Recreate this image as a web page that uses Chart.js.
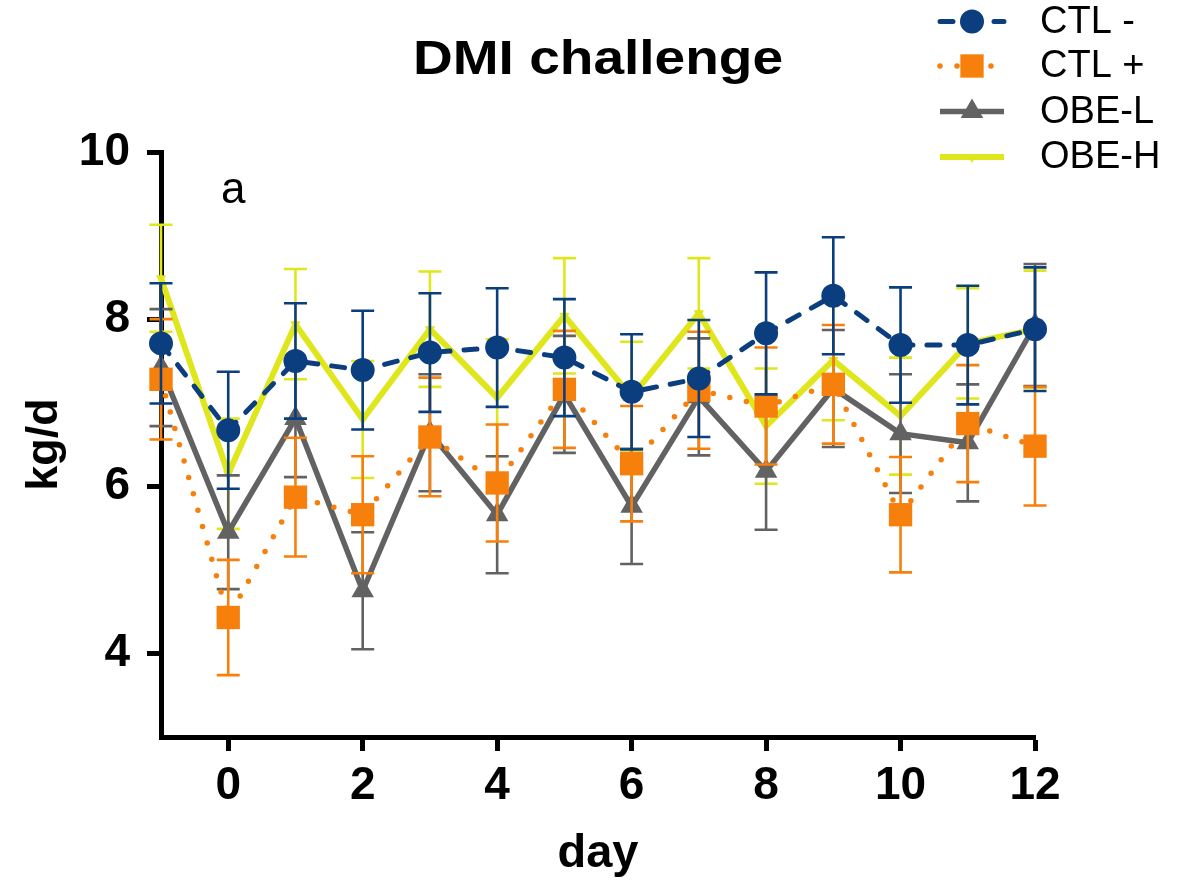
<!DOCTYPE html>
<html>
<head>
<meta charset="utf-8">
<script src="https://cdn.jsdelivr.net/npm/chart.js@4.4.1/dist/chart.umd.min.js"></script>
<style>html,body{margin:0;padding:0;background:#fff}canvas{display:block}</style>
</head>
<body>
<canvas id="c" width="1191" height="882"></canvas>
<script>
// ---- data ----
const days = [-1, 0, 1, 2, 3, 4, 5, 6, 7, 8, 9, 10, 11, 12];
const xTicks = [0, 2, 4, 6, 8, 10, 12];
const yTicks = [4, 6, 8, 10];
const seriesNames = ['CTL -', 'CTL +', 'OBE-L', 'OBE-H'];
const ctlMinus   = [7.71, 6.67, 7.50, 7.39, 7.60, 7.66, 7.54, 7.13, 7.29, 7.83, 8.28, 7.69, 7.69, 7.88];
const ctlMinusSE = [0.72, 0.70, 0.69, 0.71, 0.71, 0.71, 0.70, 0.69, 0.70, 0.73, 0.70, 0.69, 0.71, 0.74];
const ctlPlus    = [7.28, 4.43, 5.87, 5.66, 6.59, 6.04, 7.16, 6.27, 7.15, 6.96, 7.22, 5.66, 6.75, 6.48];
const ctlPlusSE  = [0.72, 0.69, 0.71, 0.70, 0.71, 0.70, 0.70, 0.69, 0.70, 0.70, 0.71, 0.69, 0.70, 0.71];
const obeL       = [7.42, 5.45, 6.81, 4.75, 6.64, 5.66, 7.10, 5.76, 7.07, 6.18, 7.17, 6.63, 6.52, 7.93];
const obeLSE     = [0.70, 0.68, 0.70, 0.70, 0.70, 0.70, 0.70, 0.69, 0.70, 0.70, 0.70, 0.71, 0.70, 0.73];
const obeH       = [8.49, 6.15, 7.94, 6.80, 7.88, 7.06, 8.04, 7.07, 8.07, 6.72, 7.51, 6.84, 7.71, 7.88];
const obeHSE     = [0.64, 0.66, 0.66, 0.70, 0.69, 0.70, 0.69, 0.66, 0.66, 0.69, 0.72, 0.70, 0.66, 0.70];

const FONT = '"Liberation Sans", Arial, Helvetica, sans-serif';
const NAVY = '#0b3e7e', ORANGE = '#f7800c', GRAY = '#626262', YELLOW = '#dfe61c';

function pts(vals) { return days.map((d, i) => ({ x: d, y: vals[i] })); }

function drawMarker(ctx, style, x, y, r, rot, color) {
  ctx.save();
  ctx.fillStyle = color;
  ctx.beginPath();
  if (style === 'circle') {
    ctx.arc(x, y, r, 0, Math.PI * 2);
  } else if (style === 'rect') {
    const s = Math.SQRT1_2 * r;
    ctx.rect(x - s, y - s, 2 * s, 2 * s);
  } else if (style === 'triangle') {
    let a = (rot || 0) * Math.PI / 180;
    for (let k = 0; k < 3; k++) {
      const px = x + Math.sin(a) * r, py = y - Math.cos(a) * r;
      if (k === 0) ctx.moveTo(px, py); else ctx.lineTo(px, py);
      a += 2 * Math.PI / 3;
    }
    ctx.closePath();
  }
  ctx.fill();
  ctx.restore();
}

const errorBars = {
  id: 'errorBars',
  beforeDatasetDraw(chart, args) {
    const ds = chart.data.datasets[args.index];
    const ys = chart.scales.y;
    const ctx = chart.ctx;
    ctx.save();
    ctx.strokeStyle = ds.errColor;
    ctx.lineWidth = 2.6;
    ctx.setLineDash([]);
    args.meta.data.forEach((p, i) => {
      const v = ds.data[i].y, e = ds.se[i];
      const yt = ys.getPixelForValue(v + e), yb = ys.getPixelForValue(v - e);
      ctx.beginPath();
      ctx.moveTo(p.x, yt); ctx.lineTo(p.x, yb);
      ctx.moveTo(p.x - 11.5, yt); ctx.lineTo(p.x + 11.5, yt);
      ctx.moveTo(p.x - 11.5, yb); ctx.lineTo(p.x + 11.5, yb);
      ctx.stroke();
    });
    ctx.restore();
  }
};

const decorations = {
  id: 'decorations',
  afterDraw(chart) {
    const ctx = chart.ctx;
    ctx.save();
    // title
    ctx.fillStyle = '#000';
    ctx.font = 'bold 48px ' + FONT;
    ctx.textBaseline = 'alphabetic';
    ctx.textAlign = 'center';
    const t = 'DMI challenge';
    const w = ctx.measureText(t).width;
    const sx = 370 / w;
    ctx.save();
    ctx.translate(598, 74);
    ctx.scale(sx, 1);
    ctx.fillText(t, 0, 0);
    ctx.restore();
    // panel letter
    ctx.font = '44px ' + FONT;
    ctx.textAlign = 'left';
    ctx.fillText('a', 221, 203);
    // legend
    const rows = [21.5, 66, 111.5, 157];
    chart.data.datasets.forEach((ds, i) => {
      const y = rows[i];
      ctx.save();
      ctx.strokeStyle = ds.borderColor;
      ctx.lineWidth = ds.borderWidth;
      ctx.lineCap = ds.borderCapStyle || 'butt';
      ctx.setLineDash(ds.borderDash || []);
      ctx.beginPath();
      ctx.moveTo(940, y); ctx.lineTo(1004, y);
      ctx.stroke();
      ctx.restore();
      drawMarker(ctx, ds.pointStyle, 972, y, ds.pointRadius, ds.pointRotation, ds.pointBackgroundColor);
      ctx.fillStyle = '#000';
      ctx.font = '38px ' + FONT;
      ctx.textAlign = 'left';
      ctx.textBaseline = 'middle';
      ctx.fillText(ds.label, 1040, y + 1);
    });
    ctx.restore();
  }
};

const tickFont = { family: FONT, size: 46, weight: 'bold' };
const titleFont = { family: FONT, size: 45, weight: 'bold' };

new Chart(document.getElementById('c'), {
  type: 'line',
  data: {
    datasets: [
      { label: seriesNames[0], data: pts(ctlMinus), se: ctlMinusSE, errColor: NAVY,
        borderColor: NAVY, borderWidth: 5, borderDash: [13, 14], borderCapStyle: 'round',
        pointStyle: 'circle', pointRadius: 12, pointBackgroundColor: NAVY, pointBorderWidth: 0,
        pointRotation: 0, clip: false },
      { label: seriesNames[1], data: pts(ctlPlus), se: ctlPlusSE, errColor: ORANGE,
        borderColor: ORANGE, borderWidth: 5.5, borderDash: [0, 17], borderCapStyle: 'round',
        pointStyle: 'rect', pointRadius: 16.5, pointBackgroundColor: ORANGE, pointBorderWidth: 0,
        pointRotation: 0, clip: false },
      { label: seriesNames[2], data: pts(obeL), se: obeLSE, errColor: GRAY,
        borderColor: GRAY, borderWidth: 5.5, borderJoinStyle: 'miter',
        pointStyle: 'triangle', pointRadius: 13, pointBackgroundColor: GRAY, pointBorderWidth: 0,
        pointRotation: 0, clip: false },
      { label: seriesNames[3], data: pts(obeH), se: obeHSE, errColor: YELLOW,
        borderColor: YELLOW, borderWidth: 6, borderJoinStyle: 'miter',
        pointStyle: 'triangle', pointRadius: 6, pointRotation: 180, pointBackgroundColor: YELLOW,
        pointBorderWidth: 0, clip: false }
    ]
  },
  options: {
    responsive: false,
    animation: false,
    events: [],
    layout: { padding: { left: 0, top: 152, right: 156, bottom: 0 } },
    elements: { line: { tension: 0 } },
    plugins: { legend: { display: false }, tooltip: { enabled: false }, title: { display: false } },
    scales: {
      x: {
        type: 'linear', min: -1, max: 12,
        afterBuildTicks: s => { s.ticks = xTicks.map(v => ({ value: v })); },
        afterFit: s => { s.height = 145; },
        ticks: { font: tickFont, color: '#000', padding: 8, autoSkip: false, maxRotation: 0 },
        grid: { drawOnChartArea: false, drawTicks: true, tickLength: 14, tickWidth: 5, tickColor: '#000' },
        border: { display: true, color: '#000', width: 5 },
        title: { display: true, text: 'day', font: { family: FONT, size: 47, weight: 'bold' }, color: '#000', padding: { top: 0, bottom: 0 } }
      },
      y: {
        type: 'linear', min: 3, max: 10,
        afterBuildTicks: s => { s.ticks = yTicks.map(v => ({ value: v })); },
        afterFit: s => { s.width = 161; },
        ticks: { font: tickFont, color: '#000', padding: 17 },
        grid: { drawOnChartArea: false, drawTicks: true, tickLength: 14, tickWidth: 5, tickColor: '#000' },
        border: { display: true, color: '#000', width: 5 },
        title: { display: true, text: 'kg/d', font: titleFont, color: '#000', padding: { top: 18, bottom: 0 } }
      }
    }
  },
  plugins: [errorBars, decorations]
});
</script>
</body>
</html>
